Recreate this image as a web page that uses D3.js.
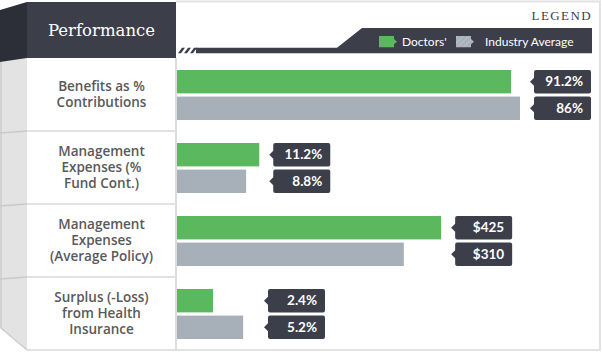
<!DOCTYPE html>
<html>
<head>
<meta charset="utf-8">
<script src="https://cdn.jsdelivr.net/npm/d3@7"></script>
<style>
  body { margin: 0; background: #fff; }
  svg { display: block; }
</style>
</head>
<body>
<svg id="chart"></svg>
<script>
// row labels ("|" = line break)
const categories = [
    "Benefits as %|Contributions",
    "Management|Expenses (%|Fund Cont.)",
    "Management|Expenses|(Average Policy)",
    "Surplus (-Loss)|from Health|Insurance"
];
const seriesNames = ["Doctors'", "Industry Average"];
// value tags as printed
const doctorsLabels = ["91.2%", "11.2%", "$425", "2.4%"];
const industryLabels = ["86%", "8.8%", "$310", "5.2%"];
// bar length as drawn, % of the track (the picture does not scale bars by value)
const doctorsBar = [78.8, 19.4, 62.3, 8.5];
const industryBar = [80.9, 16.3, 53.5, 15.6];

const W = 602, H = 352;
const GREEN = "#5cb85f", GREY = "#a7b0b9", DARK = "#3c3e4a", DARKER = "#2c2e38";
const LINE = "#e2e2e2";

const svg = d3.select("#chart").attr("width", W).attr("height", H);

const x = d3.scaleLinear().domain([0, 100]).range([177, 601]);
const y = d3.scaleBand().domain(categories).range([58, 350]);
const inner = d3.scaleBand().domain(seriesNames).range([12, 62]).paddingInner(0.12);

const rows = categories.map((c, i) => ({
    cat: c,
    bars: [
        {name: seriesNames[0], v: doctorsBar[i], label: doctorsLabels[i], color: GREEN},
        {name: seriesNames[1], v: industryBar[i], label: industryLabels[i], color: GREY}
    ]
}));

// outer frame
svg.append("path")
    .attr("d", "M176,1.5 H600 V350 H27")
    .attr("fill", "none").attr("stroke", LINE).attr("stroke-width", 2);

// left 3d side strip
svg.append("path")
    .attr("d", "M0,62 L27,58 L27,350 L0,328 Z")
    .attr("fill", "#e3e3e3");
svg.append("path")
    .attr("d", "M1,62 V328 L27,350")
    .attr("fill", "none").attr("stroke", "#cdcdcd").attr("stroke-width", 1.5);

// label panel divider
svg.append("line")
    .attr("x1", 176).attr("x2", 176).attr("y1", 58).attr("y2", 350)
    .attr("stroke", "#dcdcdc").attr("stroke-width", 2);

// row separators
categories.slice(1).forEach(c => {
    const yy = y(c);
    svg.append("line").attr("x1", 27).attr("x2", 176).attr("y1", yy).attr("y2", yy)
        .attr("stroke", LINE).attr("stroke-width", 2);
    svg.append("line").attr("x1", 0).attr("x2", 27).attr("y1", yy + 2).attr("y2", yy)
        .attr("stroke", "#c9c9c9").attr("stroke-width", 1.5);
});

// header block
svg.append("path").attr("d", "M0,10 L27,2 L27,58 L0,62 Z").attr("fill", DARKER);
svg.append("rect").attr("x", 27).attr("y", 2).attr("width", 149).attr("height", 56).attr("fill", DARK);
svg.append("text")
    .attr("x", 101.5).attr("y", 36)
    .attr("text-anchor", "middle")
    .style("font-family", "'DejaVu Serif', serif")
    .style("font-size", "16.5px")
    .style("fill", "#fff")
    .text("Performance");

// legend
svg.append("text")
    .attr("x", 592).attr("y", 19.5)
    .attr("text-anchor", "end")
    .style("font-family", "'Liberation Serif', serif")
    .style("font-size", "13px")
    .style("letter-spacing", "1.4px")
    .style("fill", DARK)
    .text("LEGEND");

svg.append("path")
    .attr("d", "M362,28 H592 V53.3 H196 V47.7 H337 Z")
    .attr("fill", DARK);
// hatch stripes at the strip's left end
[178, 184, 190].forEach(h => {
    svg.append("path")
        .attr("d", `M${h},53.3 L${h + 4},47.7 L${h + 7},47.7 L${h + 3},53.3 Z`)
        .attr("fill", DARK);
});

const defs = svg.append("defs");
const pat = defs.append("pattern").attr("id", "hatch")
    .attr("patternUnits", "userSpaceOnUse").attr("width", 4).attr("height", 4)
    .attr("patternTransform", "rotate(-45)");
pat.append("rect").attr("width", 4).attr("height", 4).attr("fill", GREY);
pat.append("line").attr("x1", 0).attr("x2", 4).attr("y1", 1).attr("y2", 1)
    .attr("stroke", "#bcc3ca").attr("stroke-width", 1.2);

const swatch = (sx, fill) => svg.append("path")
    .attr("d", `M${sx},36 H${sx + 15} V39 L${sx + 18},41.7 L${sx + 15},44.3 V47.3 H${sx} Z`)
    .attr("fill", fill);
swatch(379, GREEN);
swatch(456, "url(#hatch)");

const legendText = (lx, t) => svg.append("text")
    .attr("x", lx).attr("y", 46)
    .style("font-family", "Lato, sans-serif")
    .style("font-size", "12px")
    .style("fill", "#fff")
    .text(t);
legendText(402, seriesNames[0]);
legendText(485, seriesNames[1]);

// row labels
const labelG = svg.append("g");
rows.forEach(r => {
    const lines = r.cat.split("|");
    const cy = y(r.cat) + y.bandwidth() / 2;
    const lh = 16;
    const t = labelG.append("text")
        .attr("x", 101.5)
        .attr("text-anchor", "middle")
        .style("font-family", "'Open Sans', sans-serif")
        .style("font-weight", 600)
        .style("font-size", "13.5px")
        .style("fill", "#58595b");
    lines.forEach((ln, k) => {
        t.append("tspan")
            .attr("x", 101.5)
            .attr("y", cy + (k - (lines.length - 1) / 2) * lh + 4.5)
            .text(ln);
    });
});

// bars
const rowG = svg.selectAll("g.row").data(rows).enter()
    .append("g").attr("class", "row")
    .attr("transform", d => `translate(0,${y(d.cat)})`);

rowG.selectAll("rect.bar").data(d => d.bars).enter()
    .append("rect").attr("class", "bar")
    .attr("x", x(0))
    .attr("y", d => inner(d.name))
    .attr("width", d => x(d.v) - x(0))
    .attr("height", inner.bandwidth())
    .attr("fill", d => d.color);

// value tags
const tagW = 57, tagH = inner.bandwidth();
rowG.each(function(r) {
    const g = d3.select(this);
    const maxEnd = d3.max(r.bars, b => x(b.v));
    const tx = Math.max(maxEnd + 14, x(0) + 91);
    r.bars.forEach(b => {
        const ty = inner(b.name);
        const mid = ty + tagH / 2;
        g.append("path")
            .attr("d", `M${tx + 2},${ty} H${tx + tagW - 2} Q${tx + tagW},${ty} ${tx + tagW},${ty + 2}
                V${ty + tagH - 2} Q${tx + tagW},${ty + tagH} ${tx + tagW - 2},${ty + tagH}
                H${tx + 2} Q${tx},${ty + tagH} ${tx},${ty + tagH - 2}
                V${mid + 4} L${tx - 4},${mid} L${tx},${mid - 4} V${ty + 2} Q${tx},${ty} ${tx + 2},${ty} Z`)
            .attr("fill", DARK);
        g.append("text")
            .attr("x", tx + tagW - 8)
            .attr("y", mid + 4.5)
            .attr("text-anchor", "end")
            .style("font-family", "Lato, sans-serif")
            .style("font-weight", 700)
            .style("font-size", "13.5px")
            .style("fill", "#fff")
            .text(b.label);
    });
});
</script>
</body>
</html>
